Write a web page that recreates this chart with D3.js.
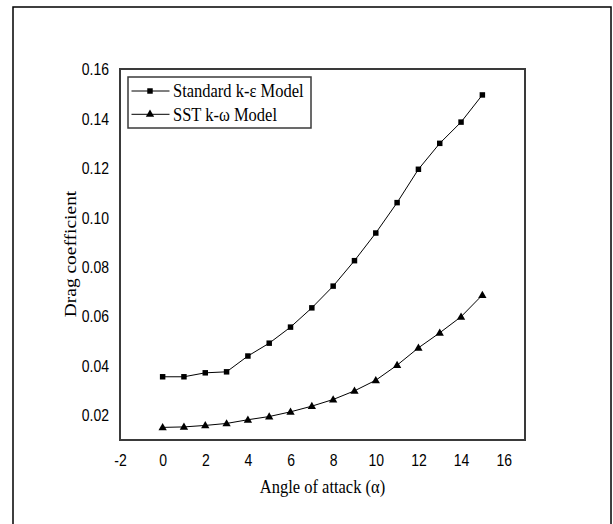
<!DOCTYPE html>
<html>
<head>
<meta charset="utf-8">
<script src="https://cdn.jsdelivr.net/npm/d3@7"></script>
<style>
  html, body { margin: 0; padding: 0; background: #fff; }
  svg { display: block; }
</style>
</head>
<body>
<script>
// ---- data ----
const angles = [0, 1, 2, 3, 4, 5, 6, 7, 8, 9, 10, 11, 12, 13, 14, 15];
const standardKE = [0.0354, 0.0354, 0.0370, 0.0374, 0.0438, 0.0490, 0.0555, 0.0633, 0.0721, 0.0824, 0.0936, 0.1059, 0.1194, 0.1299, 0.1385, 0.1495];
const sstKW = [0.0149, 0.0151, 0.0157, 0.0165, 0.0180, 0.0193, 0.0212, 0.0235, 0.0262, 0.0297, 0.0340, 0.0401, 0.0471, 0.0532, 0.0597, 0.0685];
const seriesNames = ["Standard k-\u03b5 Model", "SST k-\u03c9 Model"];
const xTicks = [-2, 0, 2, 4, 6, 8, 10, 12, 14, 16];
const yTicks = [0.02, 0.04, 0.06, 0.08, 0.10, 0.12, 0.14, 0.16];
const xTitle = "Angle of attack (\u03b1)";
const yTitle = "Drag coefficient";

const W = 613, H = 524;
const SY = 1.18; // vertical text stretch of the reference
const svg = d3.select("body").append("svg").attr("width", W).attr("height", H);

// outer frame
svg.append("rect").attr("x", 13).attr("y", 7).attr("width", 598).attr("height", 540)
  .attr("fill", "none").attr("stroke", "#000").attr("stroke-width", 1.5);

const x = d3.scaleLinear().domain([-2, 17]).range([120, 525]);
const y = d3.scaleLinear().domain([0.0098, 0.16]).range([440, 69]);

// plot border
svg.append("rect").attr("x", x(-2)).attr("y", y(0.16))
  .attr("width", x(17) - x(-2)).attr("height", y(0.0098) - y(0.16))
  .attr("fill", "none").attr("stroke", "#3a3a3a").attr("stroke-width", 2);

const sans = "'Liberation Sans', Arial, sans-serif";
const serif = "'Liberation Serif', 'Times New Roman', serif";

// x axis via d3 axis (no tick lines)
const xAxis = d3.axisBottom(x).tickValues(xTicks).tickSize(0).tickPadding(0).tickFormat(d => String(d));
const gx = svg.append("g").attr("transform", `translate(0,${y(0.0098)})`).call(xAxis);
gx.select(".domain").remove();
gx.selectAll("text").attr("font-family", sans).attr("font-size", 14).attr("fill", "#000")
  .attr("dy", null).attr("y", null).attr("dominant-baseline", "central")
  .attr("transform", `translate(0,20) scale(1,${SY})`);

const yAxis = d3.axisLeft(y).tickValues(yTicks).tickSize(0).tickPadding(0).tickFormat(d => d.toFixed(2));
const gy = svg.append("g").attr("transform", `translate(${x(-2)},0)`).call(yAxis);
gy.select(".domain").remove();
gy.selectAll("text").attr("font-family", sans).attr("font-size", 14).attr("fill", "#000")
  .attr("dy", null).attr("x", null).attr("text-anchor", "end").attr("dominant-baseline", "central")
  .attr("transform", `translate(-11,0) scale(1,${SY})`);

// titles
svg.append("text").text(xTitle)
  .attr("font-family", serif).attr("font-size", 16.5).attr("text-anchor", "middle")
  .attr("dominant-baseline", "central")
  .attr("transform", `translate(${(x(-2) + x(17)) / 2},487) scale(1,${SY})`);
svg.append("text").text(yTitle)
  .attr("font-family", serif).attr("font-size", 16.5).attr("text-anchor", "middle")
  .attr("dominant-baseline", "central")
  .attr("transform", `translate(71,254) rotate(-90) scale(${SY},1)`);

// series
const data = [
  angles.map((a, i) => ({ x: a, y: standardKE[i] })),
  angles.map((a, i) => ({ x: a, y: sstKW[i] }))
];
const line = d3.line().x(d => x(d.x)).y(d => y(d.y));
const sq = d3.symbol().type(d3.symbolSquare).size(30);
const tri = d3.symbol().type(d3.symbolTriangle).size(30);
const symbols = [sq, tri];

data.forEach((s, k) => {
  svg.append("path").datum(s).attr("d", line)
    .attr("fill", "none").attr("stroke", "#000").attr("stroke-width", 1);
  svg.append("g").selectAll("path").data(s).join("path")
    .attr("d", symbols[k]())
    .attr("transform", d => `translate(${x(d.x)},${y(d.y) + (k === 1 ? 0.5 : 0)})`)
    .attr("fill", "#000");
});

// legend
const lg = svg.append("g");
lg.append("rect").attr("x", 128).attr("y", 77).attr("width", 183).attr("height", 51)
  .attr("fill", "#fff").attr("stroke", "#3a3a3a").attr("stroke-width", 1.5);
const legY = [91, 114.3];
seriesNames.forEach((name, k) => {
  lg.append("line").attr("x1", 131.5).attr("x2", 169.5).attr("y1", legY[k]).attr("y2", legY[k])
    .attr("stroke", "#000").attr("stroke-width", 1);
  lg.append("path").attr("d", symbols[k]()).attr("transform", `translate(150,${legY[k]})`).attr("fill", "#000");
  lg.append("text").text(name)
    .attr("font-family", serif).attr("font-size", 16.5).attr("dominant-baseline", "central")
    .attr("transform", `translate(173,${legY[k]}) scale(1,${SY})`);
});
</script>
</body>
</html>
